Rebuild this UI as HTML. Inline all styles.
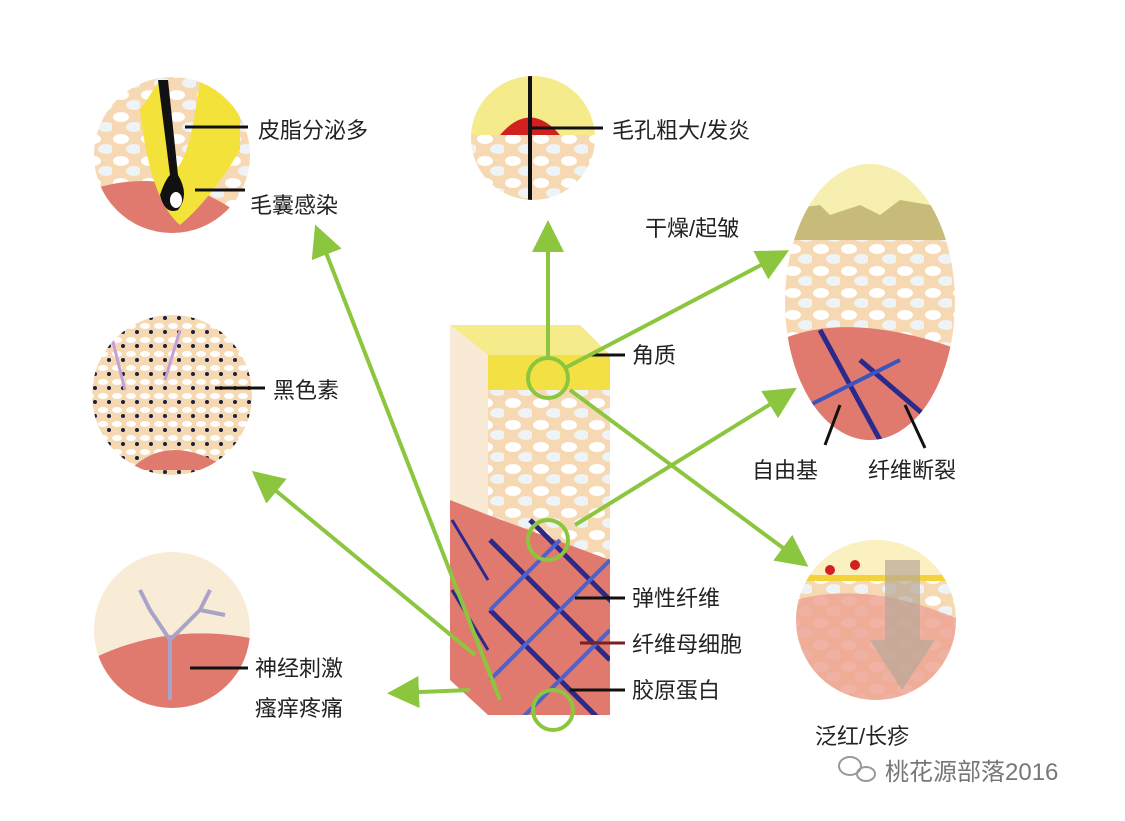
<!DOCTYPE html>
<html><head><meta charset="utf-8"><style>
html,body{margin:0;padding:0;background:#fff;}
svg{display:block}
text{font-family:"Liberation Sans","Noto Sans CJK SC",sans-serif;font-size:22px;fill:#222}
</style></head><body>
<svg width="1125" height="821" viewBox="0 0 1125 821" xmlns="http://www.w3.org/2000/svg">
<defs>
<pattern id="cells" width="28" height="22" patternUnits="userSpaceOnUse">
<rect width="28" height="22" fill="#f6d9b3"/>
<ellipse cx="9" cy="7" rx="8" ry="5" fill="#fff"/>
<ellipse cx="22" cy="17" rx="8" ry="5" fill="#eef3f6"/>
</pattern>
<pattern id="dots" width="14" height="14" patternUnits="userSpaceOnUse">
<rect width="14" height="14" fill="#f6d9b3"/>
<ellipse cx="5" cy="4" rx="5" ry="3" fill="#fff"/>
<circle cx="11" cy="10" r="2" fill="#1a2040"/>
</pattern>
<clipPath id="c1"><circle cx="172" cy="155" r="78"/></clipPath>
<clipPath id="c2"><circle cx="533" cy="138" r="62"/></clipPath>
<clipPath id="c3"><ellipse cx="870" cy="302" rx="85" ry="138"/></clipPath>
<clipPath id="c4"><circle cx="172" cy="395" r="80"/></clipPath>
<clipPath id="c5"><circle cx="172" cy="630" r="78"/></clipPath>
<clipPath id="c6"><circle cx="876" cy="620" r="80"/></clipPath>
<clipPath id="front"><polygon points="488,355 610,355 610,715 488,715"/></clipPath>
<marker id="ah" markerWidth="8" markerHeight="8" refX="6" refY="4" orient="auto" markerUnits="strokeWidth"><path d="M0,0 L8,4 L0,8 z" fill="#8cc63f"/></marker>
</defs>
<rect width="1125" height="821" fill="#fff"/>

<g clip-path="url(#c1)">
<rect x="90" y="75" width="170" height="170" fill="url(#cells)"/>
<path d="M90,190 Q180,160 260,230 L260,250 L90,250z" fill="#e07a6e"/>
<path d="M140,110 Q150,200 180,225 Q210,200 240,150 L240,80 L200,80 Q190,160 175,170 Q160,120 160,80z" fill="#f3e23a"/>
<path d="M158,80 L168,80 L178,175 Q190,195 178,210 Q165,215 160,195 Q165,180 170,175z" fill="#111"/>
<ellipse cx="176" cy="200" rx="6" ry="8" fill="#fff"/>
</g>
<line x1="185" y1="127" x2="248" y2="127" stroke="#111" stroke-width="3"/>
<line x1="195" y1="190" x2="245" y2="190" stroke="#111" stroke-width="3"/>
<text x="258" y="138">皮脂分泌多</text>
<text x="250" y="213">毛囊感染</text>

<g clip-path="url(#c2)">
<rect x="470" y="75" width="130" height="130" fill="url(#cells)"/>
<rect x="470" y="75" width="130" height="60" fill="#f6eb8a"/>
<path d="M500,135 Q530,100 560,135z" fill="#d22020"/>
<line x1="530" y1="75" x2="530" y2="200" stroke="#111" stroke-width="4"/>
</g>
<line x1="530" y1="128" x2="603" y2="128" stroke="#111" stroke-width="3"/>
<text x="612" y="138">毛孔粗大/发炎</text>

<g clip-path="url(#c3)">
<rect x="780" y="160" width="180" height="290" fill="url(#cells)"/>
<rect x="780" y="160" width="180" height="55" fill="#f7efb0"/>
<path d="M780,210 L820,205 L830,215 L860,205 L880,215 L900,200 L960,210 L960,240 L780,240z" fill="#c8bb79"/>
<path d="M780,340 Q850,310 960,350 L960,450 L780,450z" fill="#e07a6e"/>
<line x1="820" y1="330" x2="880" y2="440" stroke="#2b2a8a" stroke-width="5"/>
<line x1="860" y1="360" x2="930" y2="420" stroke="#2b2a8a" stroke-width="5"/>
<line x1="800" y1="410" x2="900" y2="360" stroke="#3a55c0" stroke-width="4"/>
</g>
<line x1="840" y1="405" x2="825" y2="445" stroke="#111" stroke-width="3"/>
<line x1="905" y1="405" x2="925" y2="448" stroke="#111" stroke-width="3"/>
<text x="645" y="236">干燥/起皱</text>
<text x="752" y="478">自由基</text>
<text x="868" y="478">纤维断裂</text>

<g clip-path="url(#c4)">
<rect x="90" y="315" width="165" height="165" fill="url(#dots)"/>
<path d="M130,470 Q170,430 230,470z" fill="#e07a6e"/>
<line x1="110" y1="330" x2="125" y2="390" stroke="#c4a0d8" stroke-width="3"/>
<line x1="180" y1="330" x2="165" y2="380" stroke="#c4a0d8" stroke-width="3"/>
</g>
<line x1="215" y1="388" x2="265" y2="388" stroke="#111" stroke-width="3"/>
<text x="273" y="398">黑色素</text>

<g clip-path="url(#c5)">
<rect x="90" y="550" width="165" height="160" fill="#f8ecd6"/>
<path d="M90,660 Q170,620 260,640 L260,710 L90,710z" fill="#e07a6e"/>
<path d="M170,700 L170,640 L150,610 M170,640 L200,610 L210,590 M200,610 L225,615 M150,610 L140,590" stroke="#a9a3c9" stroke-width="4" fill="none"/>
</g>
<line x1="190" y1="668" x2="248" y2="668" stroke="#111" stroke-width="3"/>
<text x="255" y="676">神经刺激</text>
<text x="255" y="716">瘙痒疼痛</text>

<g clip-path="url(#c6)">
<rect x="795" y="540" width="165" height="165" fill="url(#cells)"/>
<rect x="795" y="540" width="165" height="40" fill="#fbf0c0"/>
<rect x="795" y="575" width="165" height="6" fill="#f3d23a"/>
<circle cx="830" cy="570" r="5" fill="#d22020"/><circle cx="855" cy="565" r="5" fill="#d22020"/>
<path d="M795,600 Q870,580 960,620 L960,705 L795,705z" fill="#eda08f" opacity="0.8"/>
<path d="M885,560 L920,560 L920,640 L935,640 L902,690 L870,640 L885,640z" fill="#b8a898" opacity="0.7"/>
</g>
<text x="815" y="744">泛红/长疹</text>

<polygon points="450,325 580,325 610,355 488,355" fill="#f6eb8a"/>
<polygon points="450,325 488,355 488,715 450,680" fill="#f8ead4"/>
<polygon points="450,500 488,515 488,715 450,680" fill="#e07a6e"/>
<g clip-path="url(#front)">
<rect x="488" y="355" width="122" height="360" fill="url(#cells)"/>
<rect x="488" y="355" width="122" height="35" fill="#f3e045"/>
<polygon points="488,515 610,560 610,715 488,715" fill="#e07a6e"/>
<g stroke="#2b2a8a" stroke-width="5">
<line x1="490" y1="540" x2="610" y2="660"/><line x1="490" y1="610" x2="610" y2="730"/><line x1="530" y1="520" x2="620" y2="610"/>
</g>
<g stroke="#4a63d0" stroke-width="4">
<line x1="610" y1="560" x2="490" y2="680"/><line x1="610" y1="630" x2="500" y2="740"/><line x1="560" y1="540" x2="490" y2="610"/>
</g>
</g>
<g stroke="#2b2a8a" stroke-width="3"><line x1="452" y1="520" x2="488" y2="580"/><line x1="452" y1="590" x2="488" y2="650"/></g>
<line x1="590" y1="355" x2="625" y2="355" stroke="#111" stroke-width="3"/>
<line x1="575" y1="598" x2="625" y2="598" stroke="#111" stroke-width="3"/>
<line x1="580" y1="643" x2="625" y2="643" stroke="#7a2020" stroke-width="3"/>
<line x1="570" y1="690" x2="625" y2="690" stroke="#111" stroke-width="3"/>
<text x="632" y="363">角质</text>
<text x="632" y="606">弹性纤维</text>
<text x="632" y="652">纤维母细胞</text>
<text x="632" y="698">胶原蛋白</text>

<g stroke="#8cc63f" stroke-width="4" fill="none">
<line x1="548" y1="358" x2="548" y2="228" marker-end="url(#ah)"/>
<line x1="565" y1="368" x2="782" y2="254" marker-end="url(#ah)"/>
<line x1="575" y1="525" x2="790" y2="392" marker-end="url(#ah)"/>
<line x1="570" y1="390" x2="802" y2="562" marker-end="url(#ah)"/>
<line x1="500" y1="700" x2="318" y2="232" marker-end="url(#ah)"/>
<line x1="475" y1="655" x2="258" y2="476" marker-end="url(#ah)"/>
<line x1="470" y1="690" x2="395" y2="693" marker-end="url(#ah)"/>
<circle cx="548" cy="378" r="20"/><circle cx="548" cy="540" r="20"/><circle cx="553" cy="710" r="20"/>
</g>

<g fill="none" stroke="#999" stroke-width="2"><ellipse cx="850" cy="766" rx="11" ry="9"/><ellipse cx="866" cy="774" rx="9" ry="7"/></g>
<text x="885" y="780" style="fill:#777;font-size:24px">桃花源部落2016</text>
</svg>
</body></html>
